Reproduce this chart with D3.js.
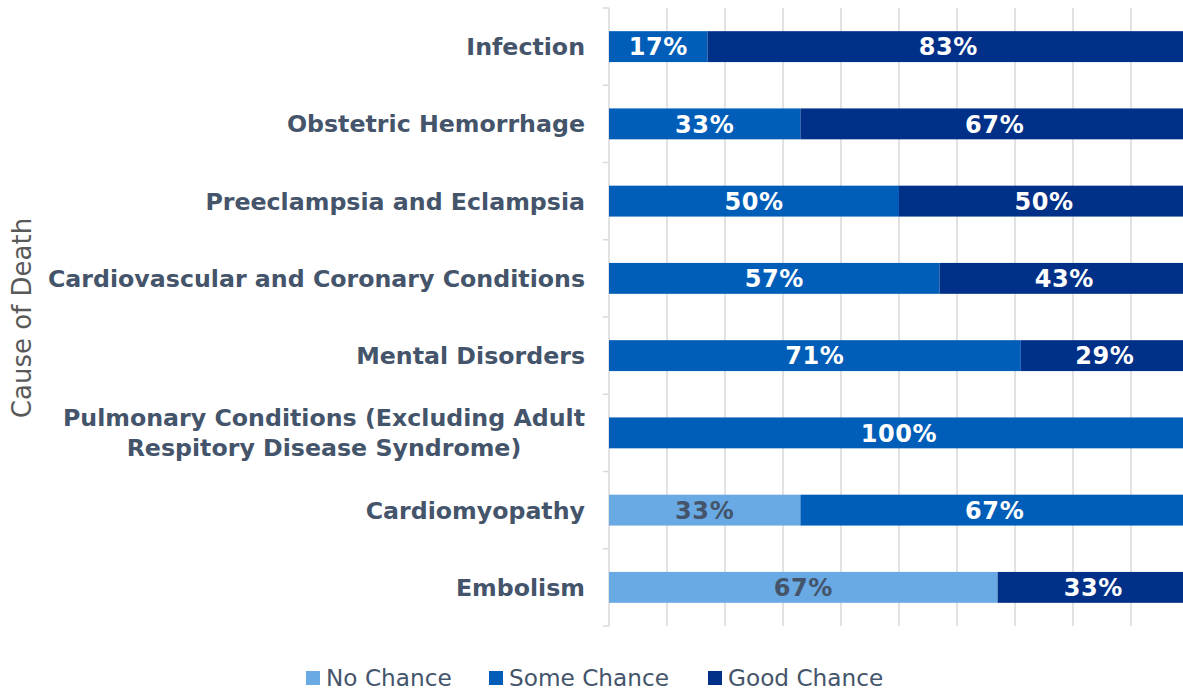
<!DOCTYPE html>
<html><head><meta charset="utf-8">
<script src="https://cdn.jsdelivr.net/npm/d3@7"></script>
<style>body{margin:0;background:#fff}svg{display:block}</style>
</head><body>
<script>
const categories = ["Infection","Obstetric Hemorrhage","Preeclampsia and Eclampsia","Cardiovascular and Coronary Conditions","Mental Disorders","Pulmonary Conditions (Excluding Adult|Respitory Disease Syndrome)","Cardiomyopathy","Embolism"];
const seriesNames = ["No Chance","Some Chance","Good Chance"];
const noChance =   [0, 0, 0, 0, 0, 0, 33, 67];
const someChance = [17, 33, 50, 57, 71, 100, 67, 0];
const goodChance = [83, 67, 50, 43, 29, 0, 0, 33];
const gridTicks = [0,10,20,30,40,50,60,70,80,90,100];
const colors = ["#6aaae4","#005eb8","#003087"];
const labelColors = ["#44546a","#ffffff","#ffffff"];

const W=1183,H=690;
const FONT="DejaVu Sans, Verdana, sans-serif";
const svg=d3.select("body").append("svg").attr("width",W).attr("height",H);
const x=d3.scaleLinear().domain([0,100]).range([609,1189]);
const y=d3.scaleBand().domain(categories).range([8,626]).paddingInner(0.6).paddingOuter(0.3);
const step=y.step();

svg.append("g").selectAll("line").data(gridTicks).join("line")
  .attr("x1",d=>x(d)).attr("x2",d=>x(d)).attr("y1",8).attr("y2",626)
  .attr("stroke","#d9d9d9").attr("stroke-width",1.5);
const bounds=d3.range(categories.length+1).map(i=>8+i*step);
svg.append("g").selectAll("line").data(bounds).join("line")
  .attr("x1",603).attr("x2",609).attr("y1",d=>d).attr("y2",d=>d)
  .attr("stroke","#d9d9d9").attr("stroke-width",1.5);

const data=categories.map((c,i)=>({cat:c,vals:[noChance[i],someChance[i],goodChance[i]]}));
data.forEach(d=>{
  let acc=0;
  d.vals.forEach((v,s)=>{
    if(v>0){
      const x0=x(acc),x1=x(acc+v);
      svg.append("rect").attr("x",x0).attr("y",y(d.cat)).attr("width",x1-x0).attr("height",y.bandwidth())
        .attr("fill",colors[s]);
      svg.append("text").attr("x",(x0+x1)/2).attr("y",y(d.cat)+y.bandwidth()/2)
        .attr("dy","0.36em").attr("text-anchor","middle")
        .attr("font-family",FONT).attr("font-weight","bold").attr("letter-spacing",0.6)
        .attr("font-size",24).attr("fill",labelColors[s]).text(v+"%");
    }
    acc+=v;
  });
});
categories.forEach(c=>{
  const lines=c.split("|");
  const cy=y(c)+y.bandwidth()/2;
  const g=svg.append("g");
  const lh=30;
  const ts=lines.map((l,i)=>g.append("text").attr("y",cy+(i-(lines.length-1)/2)*lh).attr("dy","0.36em")
    .attr("font-family",FONT).attr("font-weight","bold")
    .attr("font-size",23.7).attr("fill","#44546a").attr("text-anchor","middle").text(l));
  const maxW=d3.max(ts,t=>t.node().getComputedTextLength());
  ts.forEach(t=>t.attr("x",585-maxW/2));
});
svg.append("text").attr("transform","translate(22,318) rotate(-90)").attr("dy","0.36em")
  .attr("text-anchor","middle").attr("font-family",FONT)
  .attr("font-size",26).attr("fill","#595959").text("Cause of Death");
const legX=[306,489,708];
seriesNames.forEach((n,i)=>{
  svg.append("rect").attr("x",legX[i]).attr("y",671).attr("width",14).attr("height",14).attr("fill",colors[i]);
  svg.append("text").attr("x",legX[i]+20).attr("y",686)
    .attr("font-family",FONT).attr("font-size",23.2).attr("fill","#44546a").text(n);
});
</script>
</body></html>
